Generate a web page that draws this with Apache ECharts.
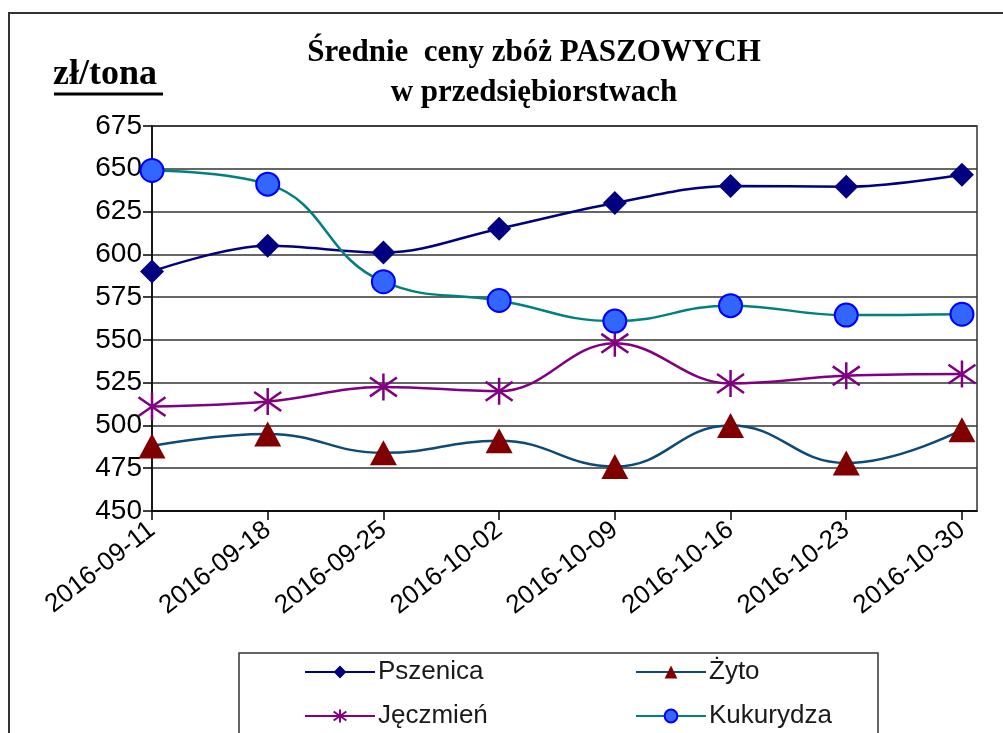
<!DOCTYPE html>
<html>
<head>
<meta charset="utf-8">
<script src="https://cdn.jsdelivr.net/npm/echarts@6/dist/echarts.min.js"></script>
<style>
  html, body { margin: 0; padding: 0; background: #fff; }
  #chart { width: 1003px; height: 733px; }
</style>
</head>
<body>
<div id="chart"></div>
<script>
// dane z wykresu
const dates = ['2016-09-11', '2016-09-18', '2016-09-25', '2016-10-02', '2016-10-09', '2016-10-16', '2016-10-23', '2016-10-30'];
const pszenica = [590, 605, 601, 615, 630, 640, 639.5, 646.5];
const zyto = [488, 495, 484, 491, 476, 500, 478, 497.5];
const jeczmien = [511, 514, 522.5, 520, 548, 524.5, 529, 530];
const kukurydza = [649, 641, 584, 573, 561, 570, 564.5, 565];

const idx = dates.map((d, i) => i);
const pairs = arr => arr.map((v, i) => [i, v]);

const starPath = 'path://M0,3L20,17M20,3L0,17M10,0L10,20';

const legendBase = {
  orient: 'vertical',
  top: 659,
  padding: 0,
  itemWidth: 70,
  itemHeight: 16,
  itemGap: 18,
  textStyle: { fontSize: 26, color: '#1a1a1a', padding: [0, 0, 0, -2] }
};

const chart = echarts.init(document.getElementById('chart'));
chart.setOption({
  animation: false,
  textStyle: { fontFamily: 'Liberation Sans' },
  title: {
    text: 'Średnie  ceny zbóż PASZOWYCH\nw przedsiębiorstwach',
    left: 529,
    top: 28,
    textAlign: 'center',
    textStyle: {
      fontFamily: 'Liberation Serif',
      fontWeight: 'bold',
      fontSize: 31,
      lineHeight: 40,
      color: '#000'
    }
  },
  graphic: [
    { type: 'rect', shape: { x: 9, y: 13, width: 1010, height: 740 }, style: { fill: 'none', stroke: '#333', lineWidth: 2 } },
    { type: 'rect', shape: { x: 239, y: 653, width: 639, height: 100 }, style: { fill: 'none', stroke: '#333', lineWidth: 1.5 } },
    { type: 'text', left: 53, top: 57, style: { text: 'zł/tona', font: 'bold 36px "Liberation Serif"', fill: '#000' } },
    { type: 'line', shape: { x1: 54, y1: 94, x2: 163, y2: 94 }, style: { stroke: '#000', lineWidth: 3 } }
  ],
  legend: [
    Object.assign({ data: ['Pszenica', 'Jęczmień'], left: 304 }, legendBase),
    Object.assign({ data: ['Żyto', 'Kukurydza'], left: 635 }, legendBase)
  ],
  grid: {
    left: 152,
    top: 126,
    width: 825,
    height: 385,
    show: true,
    borderColor: '#333',
    borderWidth: 1.5
  },
  xAxis: {
    type: 'value',
    min: 0,
    max: 7.13,
    interval: 1,
    axisLine: { lineStyle: { color: '#000', width: 1.5 } },
    axisTick: { show: true, length: 9, customValues: idx, lineStyle: { color: '#000', width: 1.5 } },
    splitLine: { show: false },
    axisLabel: {
      customValues: idx,
      formatter: v => dates[v],
      rotate: 38,
      fontSize: 26,
      color: '#000',
      margin: 16
    }
  },
  yAxis: {
    type: 'value',
    min: 450,
    max: 675,
    interval: 25,
    axisLine: { show: true, lineStyle: { color: '#000', width: 1.5 } },
    axisTick: { show: true, length: 9, lineStyle: { color: '#000', width: 1.5 } },
    splitLine: { lineStyle: { color: '#333', width: 1.5 } },
    axisLabel: { fontSize: 28, color: '#000', margin: 10 }
  },
  series: [
    {
      name: 'Pszenica',
      type: 'line',
      data: pairs(pszenica),
      smooth: 0.35,
      symbol: 'diamond',
      symbolSize: 24,
      lineStyle: { color: '#000080', width: 2.5 },
      itemStyle: { color: '#000080' }
    },
    {
      name: 'Żyto',
      type: 'line',
      data: pairs(zyto),
      smooth: 0.45,
      symbol: 'triangle',
      symbolSize: [27, 25],
      lineStyle: { color: '#0d4a78', width: 2.5 },
      itemStyle: { color: '#800000' }
    },
    {
      name: 'Jęczmień',
      type: 'line',
      data: pairs(jeczmien),
      smooth: 0.4,
      symbol: starPath,
      symbolSize: 27,
      lineStyle: { color: '#800080', width: 2.5 },
      itemStyle: { color: '#800080', borderColor: '#800080', borderWidth: 2.5 }
    },
    {
      name: 'Kukurydza',
      type: 'line',
      data: pairs(kukurydza),
      smooth: 0.45,
      symbol: 'circle',
      symbolSize: 23,
      lineStyle: { color: '#008080', width: 2.5 },
      itemStyle: { color: '#3366ff', borderColor: '#0000ff', borderWidth: 2 }
    }
  ]
});
</script>
</body>
</html>
